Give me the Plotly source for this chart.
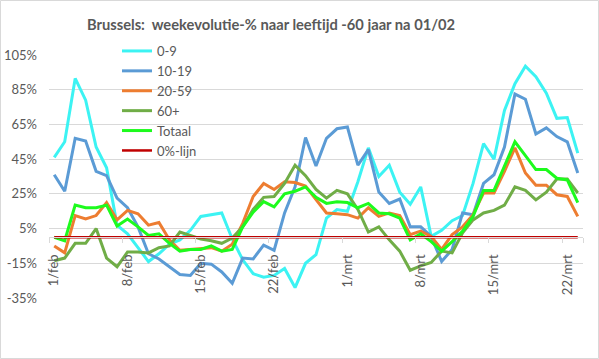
import plotly.graph_objects as go

# ---- data ----
dates = [f"{d}/feb" for d in range(1, 29)] + [f"{d}/mrt" for d in range(1, 24)]

s_0_9 = [46, 55, 91.5, 79, 52, 40, 7, 2, -6, -14, -9.5, -4, -1.5, 4, 12, 13, 14, -1, -13, -21,
         -23, -22, -18, -29, -15, -10, 11, 16, 15, 32, 51.5, 35, 41.5, 26, 19, 29, 0.5, 4, 9.5,
         12.5, 31, 54, 45, 73, 88.5, 98.5, 92.5, 83, 68.5, 69, 48.5]
s_10_19 = [36, 26.5, 57, 55.5, 38, 35.5, 22.5, 17, 6, -9.5, -12.5, -17, -21.5, -22, -15, -15.5,
           -20, -26.5, -12, -12.5, -4.5, -7.5, 14, 29, 57.5, 41, 57, 62.5, 63.5, 41.5, 50.5, 26,
           19.5, 22, 6, 6, 0.5, -14, -7, 14, 13, 31, 36, 52, 82.5, 79.5, 59.5, 63, 58, 55, 37]
s_20_59 = [-5, -9, 12.5, 10.5, 12.5, 20, 10, 15.5, 13.5, 7, 8.5, -1.5, -7.5, -7, -6.5, -6, -8,
           -4, 8, 23.5, 31, 27.5, 32, 31.5, 29.5, 22, 14, 13.5, 13, 11, 17, 12, 14, 12.5, 1.5,
           3.5, 0.5, -7, 1.5, 6, 13, 25.5, 25.5, 38, 51.5, 37, 30, 30, 24.5, 23.5, 12]
s_60 = [-13.5, -12, -3.5, -3.5, 5, -12, -17, -8.5, -8.5, -9, -6, -5, 3, 1, -1, -2, -3.5, -0.5,
        6, 16, 23, 23.5, 31, 41.5, 35.5, 27.5, 22.5, 27, 25, 16, 3, 6, -1.5, -8, -19, -16.5,
        -14.5, -8, -9, 2.5, 10, 14, 15.5, 18.5, 29, 27, 21.5, 26, 33.5, 33.5, 25.5]
s_tot = [0, -2, 18.5, 17, 17, 18.5, 6.5, 10.5, 6, 1, 2, -3.5, -8, -7, -7, -5, -8, -7, 6, 14.5,
         20.5, 17.5, 25, 26.5, 29, 23, 19.5, 20.5, 20, 17, 19.5, 14, 13.5, 11, -1.5, 2, -2.5, -8,
         -2.5, 3.5, 12, 27, 27, 41, 55, 47, 39, 39, 34, 33, 20]
s_zero = [0] * len(dates)

y_ticks = [-35, -15, 5, 25, 45, 65, 85, 105]
y_tick_labels = [f"{v}%" for v in y_ticks]
x_label_idx = [0, 7, 14, 21, 28, 35, 42, 49]

series = [
    ("0-9", s_0_9, "#3CF3F3", 3),
    ("10-19", s_10_19, "#5B9BD5", 3),
    ("20-59", s_20_59, "#ED7D31", 3),
    ("60+", s_60, "#70AD47", 3),
    ("Totaal", s_tot, "#1DFB1D", 3),
    ("0%-lijn", s_zero, "#C00000", 2.5),
]

FONT = "Lato"
TXT = "#595959"
GRID = "#D9D9D9"

W, H = 599, 359
ML, MR, MT, MB = 49, 16, 55, 61
PW, PH = W - ML - MR, H - MT - MB

x_idx = list(range(len(dates)))

fig = go.Figure()
for name, vals, col, wd in series:
    fig.add_trace(go.Scatter(x=x_idx, y=vals, mode="lines", name=name,
                             line=dict(color=col, width=wd), hoverinfo="skip"))

ymin, ymax = y_ticks[0], y_ticks[-1]
fig.update_layout(
    width=W, height=H, autosize=False,
    margin=dict(l=ML, r=MR, t=MT, b=MB, pad=0, autoexpand=False),
    paper_bgcolor="white", plot_bgcolor="white",
    font=dict(family=FONT, color=TXT, size=13),
    title=dict(text="Brussels:\u00a0 weekevolutie-% naar leeftijd -60 jaar na 01/02",
               font=dict(family=FONT, size=14.7, color=TXT, weight="bold"),
               xref="container", yref="container", x=271 / W, y=1 - 25 / H,
               xanchor="center", yanchor="middle", automargin=False),
    showlegend=True,
    legend=dict(x=(117 - ML) / PW, y=1 + (MT - 36) / PH, xanchor="left", yanchor="top",
                bgcolor="rgba(0,0,0,0)", borderwidth=0, itemwidth=30,
                font=dict(family=FONT, size=13, color=TXT), tracegroupgap=0),
    xaxis=dict(range=[-0.5, len(dates) - 0.5], anchor="free",
               position=(0 - ymin) / (ymax - ymin), automargin=False,
               tickmode="array", tickvals=x_label_idx,
               ticktext=[dates[i] for i in x_label_idx], tickangle=-90,
               ticks="", showgrid=False, zeroline=False,
               showline=True, linecolor=GRID, linewidth=1,
               tickfont=dict(family=FONT, size=13, color=TXT),
               ticklabelstandoff=11,
               minor=dict(tickmode="array", tickvals=[i - 0.5 for i in x_label_idx] + [len(dates) - 0.5],
                          ticks="outside", ticklen=5, tickcolor=GRID, showgrid=False)),
    yaxis=dict(range=[ymin, ymax], tickmode="array", tickvals=y_ticks, automargin=False,
               ticktext=y_tick_labels, showgrid=True, gridcolor=GRID, gridwidth=1,
               zeroline=False, showline=False, ticks="",
               tickfont=dict(family=FONT, size=13, color=TXT), ticklabelstandoff=11),
)

# chart border
fig.add_shape(type="rect", xref="paper", yref="paper",
              x0=(0.5 - ML) / PW, x1=(W - 0.5 - ML) / PW,
              y0=-(MB - 0.5) / PH, y1=1 + (MT - 0.5) / PH,
              line=dict(color=GRID, width=1), fillcolor="rgba(0,0,0,0)", layer="below")

fig.write_html("out.html", config={"displayModeBar": False, "staticPlot": True},
               post_script="document.body.style.margin='0';document.body.style.overflow='hidden';")
